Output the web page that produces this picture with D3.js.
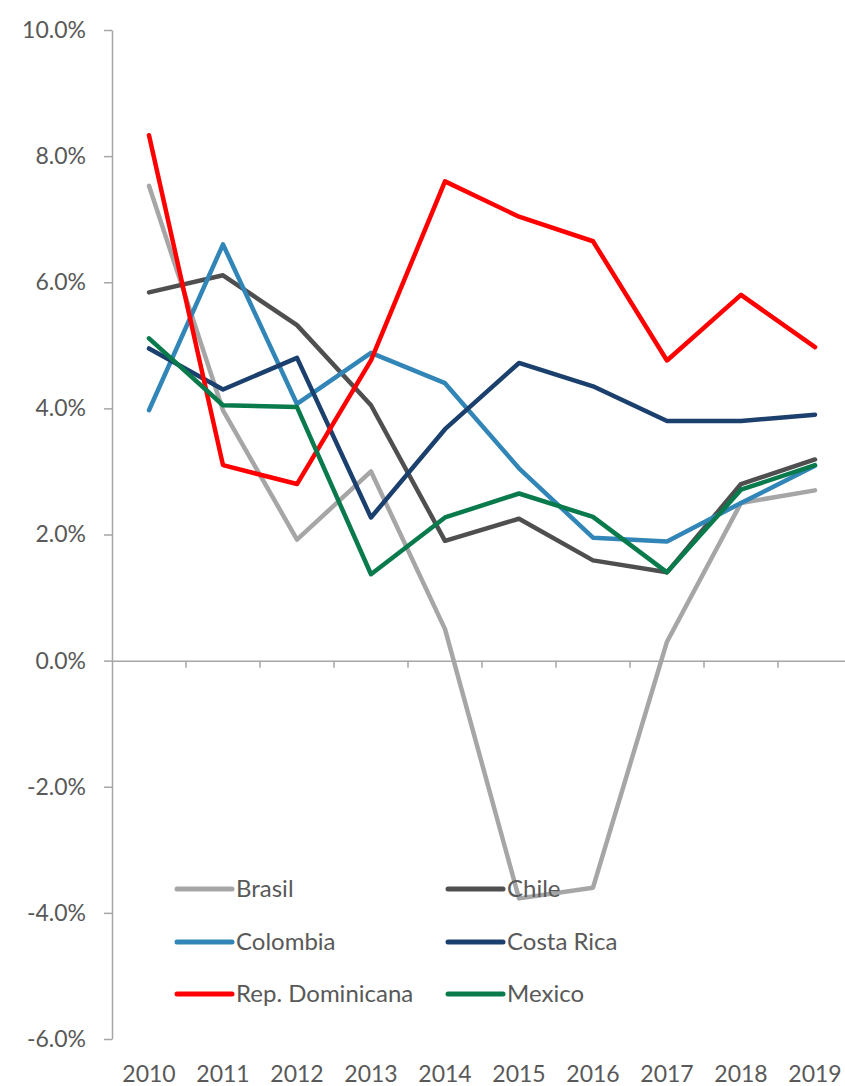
<!DOCTYPE html>
<html>
<head>
<meta charset="utf-8">
<script src="https://cdn.jsdelivr.net/npm/d3@7/dist/d3.min.js"></script>
<style>
  html, body { margin: 0; padding: 0; background: #fff; }
  svg { display: block; }
  text { font-family: Lato, "Open Sans", sans-serif; fill: #595959; }
</style>
</head>
<body>
<svg id="chart" width="845" height="1086"></svg>
<script>
// Annual GDP growth (%) by country, 2010–2019
const years = ["2010", "2011", "2012", "2013", "2014", "2015", "2016", "2017", "2018", "2019"];
const yTicks = [-6, -4, -2, 0, 2, 4, 6, 8, 10];

const brasil      = [7.53, 3.97, 1.92, 3.0, 0.5, -3.77, -3.6, 0.3, 2.5, 2.7];
const chile       = [5.84, 6.11, 5.32, 4.05, 1.9, 2.25, 1.59, 1.4, 2.8, 3.19];
const colombia    = [3.97, 6.6, 4.07, 4.88, 4.4, 3.05, 1.95, 1.89, 2.5, 3.09];
const costaRica   = [4.95, 4.3, 4.8, 2.27, 3.67, 4.72, 4.35, 3.8, 3.8, 3.9];
const repDom      = [8.33, 3.1, 2.8, 4.76, 7.6, 7.04, 6.65, 4.76, 5.8, 4.97];
const mexico      = [5.11, 4.05, 4.02, 1.37, 2.27, 2.65, 2.28, 1.4, 2.71, 3.1];

const seriesNames  = ["Brasil", "Chile", "Colombia", "Costa Rica", "Rep. Dominicana", "Mexico"];
const seriesValues = [brasil, chile, colombia, costaRica, repDom, mexico];
const seriesColors = ["#a6a6a6", "#4f4f4f", "#3186b7", "#1b406e", "#ff0000", "#097a4c"];

const series = seriesNames.map((name, i) => ({
  name,
  color: seriesColors[i],
  values: seriesValues[i].map((v, j) => ({ year: years[j], value: v }))
}));

const svg = d3.select("#chart");
const axisColor = "#a6a6a6";

const x = d3.scaleBand().domain(years).range([112, 852]).paddingInner(0).paddingOuter(0);
const y = d3.scaleLinear().domain([-6, 10]).range([1039, 30]);

// Vertical value axis
const yAxis = d3.axisLeft(y)
  .tickValues(yTicks)
  .tickSize(8)
  .tickSizeOuter(0)
  .tickPadding(18)
  .tickFormat(d => d.toFixed(1) + "%");

const gy = svg.append("g").attr("transform", "translate(112,0)").call(yAxis);
gy.select(".domain").attr("stroke", axisColor).attr("stroke-width", 1.5);
gy.selectAll(".tick line").attr("stroke", axisColor).attr("stroke-width", 1.5);
gy.selectAll(".tick text")
  .attr("font-size", 23)
  .attr("font-family", "Lato, 'Open Sans', sans-serif")
  .attr("fill", "#595959");

// Horizontal category axis crossing at zero, with ticks between categories
const gx = svg.append("g").attr("transform", `translate(0,${y(0)})`)
  .call(d3.axisBottom(x).tickSize(0).tickSizeOuter(0).tickFormat(""));
gx.select(".domain").attr("stroke", axisColor).attr("stroke-width", 1.5);
gx.selectAll(".tick").remove();
gx.selectAll("line.sep")
  .data(years.slice(1))
  .join("line")
  .attr("class", "sep")
  .attr("x1", d => x(d)).attr("x2", d => x(d))
  .attr("y1", 0).attr("y2", 7)
  .attr("stroke", axisColor).attr("stroke-width", 1.5);

// Category labels along the bottom
svg.append("g").selectAll("text")
  .data(years)
  .join("text")
  .attr("x", d => x(d) + x.bandwidth() / 2)
  .attr("y", 1082)
  .attr("text-anchor", "middle")
  .attr("font-size", 23)
  .text(d => d);

// Series lines
const line = d3.line()
  .x(d => x(d.year) + x.bandwidth() / 2)
  .y(d => y(d.value));

svg.append("g").selectAll("path")
  .data(series)
  .join("path")
  .attr("d", d => line(d.values))
  .attr("fill", "none")
  .attr("stroke", d => d.color)
  .attr("stroke-width", 4.5)
  .attr("stroke-linejoin", "round")
  .attr("stroke-linecap", "round");

// Legend: two columns, three rows
const legend = svg.append("g");
const colX = [177, 448];
const rowY = [889, 942, 994];
const items = legend.selectAll("g")
  .data(series)
  .join("g")
  .attr("transform", (d, i) => `translate(${colX[i % 2]},${rowY[Math.floor(i / 2)]})`);
items.append("line")
  .attr("x1", 0).attr("x2", 55)
  .attr("y1", 0).attr("y2", 0)
  .attr("stroke", d => d.color)
  .attr("stroke-width", 5)
  .attr("stroke-linecap", "round");
items.append("text")
  .attr("x", 59)
  .attr("y", 0)
  .attr("dy", "0.35em")
  .attr("font-size", 24)
  .text(d => d.name);
</script>
</body>
</html>
